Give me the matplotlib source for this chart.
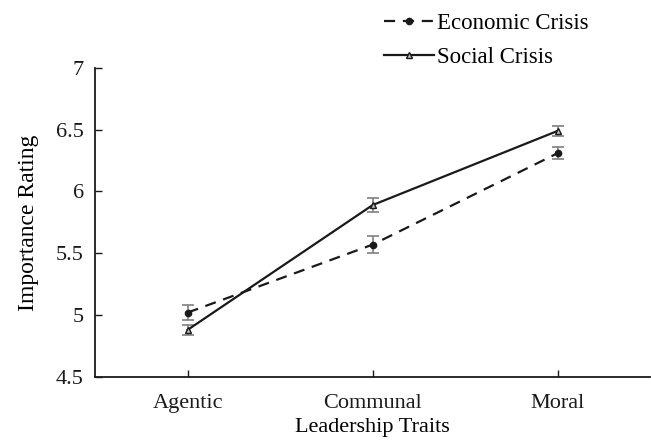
import matplotlib
matplotlib.use("Agg")
import matplotlib.pyplot as plt

traits = ["Agentic", "Communal", "Moral"]
economic = [5.02, 5.57, 6.31]
economic_err = [0.06, 0.07, 0.05]
social = [4.88, 5.89, 6.49]
social_err = [0.04, 0.06, 0.04]
yticks = [4.5, 5, 5.5, 6, 6.5, 7]
ytick_labels = ["4.5", "5", "5.5", "6", "6.5", "7"]

plt.rcParams["font.family"] = ["Liberation Serif", "DejaVu Serif"]

fig = plt.figure(figsize=(6.51, 4.46), dpi=100)
ax = fig.add_axes([0.146, 0.155, 0.853, 0.693])

x = list(range(len(traits)))

ax.errorbar(x, economic, yerr=economic_err, fmt="none", ecolor="#808080",
            elinewidth=1.2, capsize=4, capthick=1.2, zorder=2)
ax.errorbar(x, social, yerr=social_err, fmt="none", ecolor="#808080",
            elinewidth=1.2, capsize=4, capthick=1.2, zorder=2)
ax.plot(x, economic, color="#1a1a1a", linestyle=(0, (5, 3.5)), linewidth=1.6,
        marker="o", markersize=4.5, markerfacecolor="#1a1a1a",
        markeredgecolor="#1a1a1a", label="Economic Crisis", zorder=3)
ax.plot(x, social, color="#1a1a1a", linestyle="-", linewidth=1.6,
        marker="^", markersize=5, markerfacecolor="#bbbbbb",
        markeredgecolor="#1a1a1a", markeredgewidth=1, label="Social Crisis", zorder=3)

ax.set_xlim(-0.5, 2.5)
ax.set_ylim(4.5, 7)
ax.set_xticks(x)
ax.set_xticklabels(traits, fontsize=16)
ax.set_yticks(yticks)
ax.set_yticklabels(ytick_labels, fontsize=16)
ax.tick_params(axis="both", direction="in", length=5, width=1, pad=8, colors="#1a1a1a")
ax.tick_params(axis="x", pad=12)

for side in ["top", "right"]:
    ax.spines[side].set_visible(False)
for side in ["left", "bottom"]:
    ax.spines[side].set_linewidth(1.3)
    ax.spines[side].set_color("#1a1a1a")

ax.set_xlabel("Leadership Traits", fontsize=16, labelpad=4)
ax.set_ylabel("Importance Rating", fontsize=17, labelpad=12)

ax.legend(loc="lower left", bbox_to_anchor=(0.503, 0.97), frameon=False,
          fontsize=16.5, handlelength=2.2, handletextpad=0.15, labelspacing=0.55,
          borderaxespad=0)

fig.savefig("out.png", dpi=100)
